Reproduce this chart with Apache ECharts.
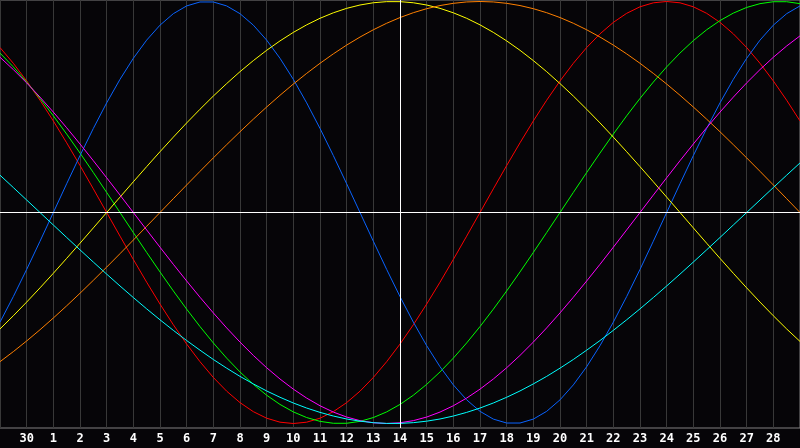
<!DOCTYPE html>
<html><head><meta charset="utf-8">
<script src="https://cdn.jsdelivr.net/npm/echarts@6/dist/echarts.min.js"></script>
<style>html,body{margin:0;padding:0;background:#060508;}#c{width:800px;height:448px;}</style>
</head><body><div id="c"></div>
<script>
// day labels at each whole day (first and last are off the visible range)
const days = ['29','30','1','2','3','4','5','6','7','8','9','10','11','12','13','14','15','16','17','18','19','20','21','22','23','24','25','26','27','28','29'];
// values read at every half day (61 samples), scale -1..1
const red = [0.7818,0.7071,0.6235,0.5320,0.4339,0.3303,0.2225,0.1120,0,-0.1120,-0.2225,-0.3303,-0.4339,-0.5320,-0.6235,-0.7071,-0.7818,-0.8467,-0.9010,-0.9439,-0.9749,-0.9937,-1,-0.9937,-0.9749,-0.9439,-0.9010,-0.8467,-0.7818,-0.7071,-0.6235,-0.5320,-0.4339,-0.3303,-0.2225,-0.1120,0,0.1120,0.2225,0.3303,0.4339,0.5320,0.6235,0.7071,0.7818,0.8467,0.9010,0.9439,0.9749,0.9937,1,0.9937,0.9749,0.9439,0.9010,0.8467,0.7818,0.7071,0.6235,0.5320,0.4339];
const green = [0.7557,0.6901,0.6182,0.5406,0.4582,0.3717,0.2817,0.1893,0.0951,0,-0.0951,-0.1893,-0.2817,-0.3717,-0.4582,-0.5406,-0.6182,-0.6901,-0.7557,-0.8146,-0.8660,-0.9096,-0.9450,-0.9718,-0.9898,-0.9989,-0.9989,-0.9898,-0.9718,-0.9450,-0.9096,-0.8660,-0.8146,-0.7557,-0.6901,-0.6182,-0.5406,-0.4582,-0.3717,-0.2817,-0.1893,-0.0951,0,0.0951,0.1893,0.2817,0.3717,0.4582,0.5406,0.6182,0.6901,0.7557,0.8146,0.8660,0.9096,0.9450,0.9718,0.9898,0.9989,0.9989,0.9898];
const blue = [-0.5196,-0.3984,-0.2698,-0.1362,0,0.1362,0.2698,0.3984,0.5196,0.6311,0.7308,0.8170,0.8879,0.9423,0.9791,0.9977,0.9977,0.9791,0.9423,0.8879,0.8170,0.7308,0.6311,0.5196,0.3984,0.2698,0.1362,0,-0.1362,-0.2698,-0.3984,-0.5196,-0.6311,-0.7308,-0.8170,-0.8879,-0.9423,-0.9791,-0.9977,-0.9977,-0.9791,-0.9423,-0.8879,-0.8170,-0.7308,-0.6311,-0.5196,-0.3984,-0.2698,-0.1362,0,0.1362,0.2698,0.3984,0.5196,0.6311,0.7308,0.8170,0.8879,0.9423,0.9791];
const yellow = [-0.5519,-0.4894,-0.4245,-0.3572,-0.2881,-0.2174,-0.1456,-0.0730,0,0.0730,0.1456,0.2174,0.2881,0.3572,0.4245,0.4894,0.5519,0.6110,0.6675,0.7199,0.7687,0.8133,0.8536,0.8893,0.9204,0.9464,0.9675,0.9834,0.9940,0.9993,0.9993,0.9940,0.9834,0.9675,0.9464,0.9204,0.8893,0.8536,0.8133,0.7687,0.7199,0.6675,0.6110,0.5519,0.4894,0.4245,0.3572,0.2881,0.2174,0.1456,0.0730,0,-0.0730,-0.1456,-0.2174,-0.2881,-0.3572,-0.4245,-0.4894,-0.5519,-0.6110];
const orange = [-0.7071,-0.6593,-0.6088,-0.5556,-0.5,-0.4423,-0.3827,-0.3214,-0.2588,-0.1951,-0.1305,-0.0654,0,0.0654,0.1305,0.1951,0.2588,0.3214,0.3827,0.4423,0.5,0.5556,0.6088,0.6593,0.7071,0.7518,0.7934,0.8315,0.8660,0.8969,0.9239,0.9469,0.9659,0.9808,0.9914,0.9979,1,0.9979,0.9914,0.9808,0.9659,0.9469,0.9239,0.8969,0.8660,0.8315,0.7934,0.7518,0.7071,0.6593,0.6088,0.5556,0.5,0.4423,0.3827,0.3214,0.2588,0.1951,0.1305,0.0654,0];
const magenta = [0.7357,0.6773,0.6142,0.5469,0.4759,0.4017,0.3247,0.2455,0.1646,0.0826,0,-0.0826,-0.1646,-0.2455,-0.3247,-0.4017,-0.4759,-0.5469,-0.6142,-0.6773,-0.7357,-0.7891,-0.8372,-0.8795,-0.9158,-0.9458,-0.9694,-0.9864,-0.9966,-1,-0.9966,-0.9864,-0.9694,-0.9458,-0.9158,-0.8795,-0.8372,-0.7891,-0.7357,-0.6773,-0.6142,-0.5469,-0.4759,-0.4017,-0.3247,-0.2455,-0.1646,-0.0826,0,0.0826,0.1646,0.2455,0.3247,0.4017,0.4759,0.5469,0.6142,0.6773,0.7357,0.7891,0.8372];
const cyan = [0.1769,0.1183,0.0592,0,-0.0592,-0.1183,-0.1769,-0.2349,-0.2920,-0.3482,-0.4031,-0.4566,-0.5085,-0.5585,-0.6068,-0.6525,-0.6966,-0.7377,-0.7767,-0.8124,-0.8457,-0.8757,-0.9028,-0.9267,-0.9473,-0.9646,-0.9786,-0.9890,-0.9960,-0.9996,-0.9996,-0.9960,-0.9890,-0.9786,-0.9646,-0.9473,-0.9267,-0.9028,-0.8757,-0.8457,-0.8124,-0.7767,-0.7377,-0.6966,-0.6525,-0.6068,-0.5585,-0.5085,-0.4566,-0.4031,-0.3482,-0.2920,-0.2349,-0.1769,-0.1183,-0.0592,0,0.0592,0.1183,0.1769,0.2349];

const curves = [
  {name:'red', data:red, color:'#ff0000'},
  {name:'green', data:green, color:'#00ff00'},
  {name:'blue', data:blue, color:'#0a64ff'},
  {name:'yellow', data:yellow, color:'#ffff00'},
  {name:'orange', data:orange, color:'#ff8000'},
  {name:'magenta', data:magenta, color:'#ff00ff'},
  {name:'cyan', data:cyan, color:'#00ffff'}
];

// half-day categories: day label on whole days, blank in between
const cats = [];
days.forEach((d, i) => { cats.push(d); if (i < days.length - 1) cats.push(''); });

const chart = echarts.init(document.getElementById('c'), null, {renderer:'canvas'});
const series = [{
  type:'line', data:[], silent:true,
  markLine:{
    silent:true, symbol:'none', animation:false,
    label:{show:false},
    lineStyle:{color:'#ffffff', width:1, type:'solid'},
    data:[{yAxis:0},{xAxis:30}]
  }
}];
curves.forEach(c => series.push({
  type:'line', name:c.name, data:c.data, smooth:false, showSymbol:false,
  lineStyle:{color:c.color, width:1}, itemStyle:{color:c.color}
}));

chart.setOption({
  backgroundColor:'#060508',
  animation:false,
  grid:{left:0, right:0, top:0, height:428, containLabel:false, outerBoundsMode:'none',
        show:true, borderColor:'#808080', borderWidth:1, backgroundColor:'transparent'},
  xAxis:{
    type:'category', data:cats, boundaryGap:false,
    axisLine:{show:false}, axisTick:{show:false},
    axisLabel:{show:true, interval:1, color:'#ffffff', fontWeight:'bold', fontSize:12,
               fontFamily:'DejaVu Sans Mono', margin:5,
               formatter:(v, i) => (i === 0 || i === cats.length - 1) ? '' : v},
    splitLine:{show:true, interval:1, lineStyle:{color:'#383838', width:1}}
  },
  yAxis:{type:'value', min:-1.0213, max:1.0071, show:false, splitLine:{show:false}},
  series:series
});
</script></body></html>
